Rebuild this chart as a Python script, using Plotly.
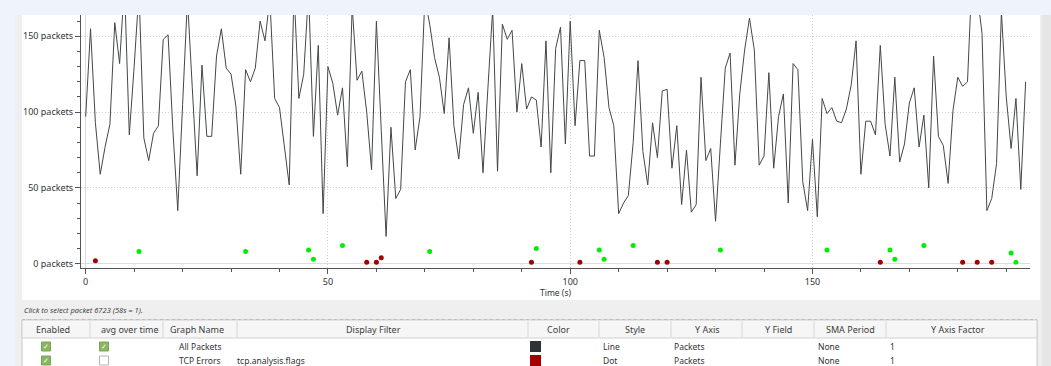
import plotly.graph_objects as go

# ---------------- data ----------------
time_s = list(range(0, 195))
all_packets = [
    97, 155, 93, 59, 77, 92, 159, 132, 185, 85,
    130, 180, 83, 68, 86, 91, 148, 151, 88, 35,
    105, 175, 116, 58, 131, 84, 84, 137, 155, 129,
    125, 104, 59, 128, 120, 129, 160, 147, 175, 109,
    103, 79, 52, 180, 109, 125, 180, 84, 144, 33,
    130, 119, 98, 116, 64, 170, 121, 127, 100, 62,
    160, 88, 18, 90, 43, 49, 120, 128, 75, 97,
    175, 158, 136, 123, 99, 149, 91, 69, 105, 116,
    86, 113, 60, 115, 168, 61, 158, 148, 154, 100,
    132, 102, 110, 108, 77, 147, 60, 142, 156, 79,
    160, 91, 134, 134, 71, 71, 154, 136, 103, 91,
    33, 40, 45, 80, 134, 74, 52, 93, 70, 114,
    115, 63, 91, 39, 75, 34, 39, 123, 68, 76,
    28, 79, 129, 139, 65, 112, 141, 162, 141, 65,
    71, 126, 63, 97, 112, 40, 132, 128, 54, 35,
    82, 31, 109, 99, 103, 94, 93, 102, 118, 147,
    59, 94, 94, 85, 144, 92, 71, 123, 67, 79,
    106, 116, 77, 98, 50, 137, 84, 78, 53, 101,
    123, 117, 120, 195, 178, 152, 35, 43, 66, 166,
    110, 76, 109, 49, 120,
]
tcp_err_t = [2, 58, 60, 61, 92, 102, 118, 120, 164, 181, 184, 187]
tcp_err_v = [2, 1, 1, 4, 1, 1, 1, 1, 1, 1, 1, 1]
green_t = [11, 33, 46, 47, 53, 71, 93, 106, 107, 113, 131, 153, 166, 167, 173, 191, 192]
green_v = [8, 8, 9, 3, 12, 8, 10, 9, 3, 12, 9, 9, 9, 3, 12, 7, 1]

y_tick_vals = [0, 50, 100, 150]
y_tick_text = ["0 packets", "50 packets", "100 packets", "150 packets"]
x_tick_vals = [0, 50, 100, 150]
x_tick_text = ["0", "50", "100", "150"]

headers = ["Enabled", "avg over time", "Graph Name", "Display Filter", "Color",
           "Style", "Y Axis", "Y Field", "SMA Period", "Y Axis Factor"]
rows = [
    {"name": "All Packets", "filter": "", "style": "Line", "yaxis": "Packets",
     "sma": "None", "factor": "1", "color": "#2e3436", "avg": True},
    {"name": "TCP Errors", "filter": "tcp.analysis.flags", "style": "Dot", "yaxis": "Packets",
     "sma": "None", "factor": "1", "color": "#a40000", "avg": False},
]
hint_text = "Click to select packet 6723 (58s = 1)."

# ---------------- geometry helpers ----------------
W, H = 1051, 366
L, R, T, B = 81, 21, 15, 98
PW = W - L - R
PH = H - T - B


def px(x):
    return (x - L) / PW


def py(y):
    return 1 - (y - T) / PH


FONT = "Noto Sans"

fig = go.Figure()
fig.add_trace(go.Scatter(x=time_s, y=all_packets, mode="lines",
                         line=dict(color="#444749", width=1), hoverinfo="skip"))
fig.add_trace(go.Scatter(x=tcp_err_t, y=tcp_err_v, mode="markers",
                         marker=dict(color="#a40000", size=5), hoverinfo="skip"))
fig.add_trace(go.Scatter(x=green_t, y=green_v, mode="markers",
                         marker=dict(color="#00ee00", size=5), hoverinfo="skip"))

shapes = []
annotations = []


def rect(x0, y0, x1, y1, fill, line=None, lw=1):
    shapes.append(dict(type="rect", xref="paper", yref="paper",
                       x0=px(x0), x1=px(x1), y0=py(y0), y1=py(y1),
                       fillcolor=fill, line=dict(color=line or fill, width=lw if line else 0),
                       layer="below"))


def hline(x0, x1, y, color, dash="solid"):
    shapes.append(dict(type="line", xref="paper", yref="paper",
                       x0=px(x0), x1=px(x1), y0=py(y), y1=py(y),
                       line=dict(color=color, width=1, dash=dash), layer="below"))


def vline(x, y0, y1, color):
    shapes.append(dict(type="line", xref="paper", yref="paper",
                       x0=px(x), x1=px(x), y0=py(y0), y1=py(y1),
                       line=dict(color=color, width=1), layer="below"))


def text(x, y, s, size=9, color="#333333", anchor="left"):
    annotations.append(dict(xref="paper", yref="paper", x=px(x), y=py(y), text=s,
                            showarrow=False, xanchor=anchor, yanchor="middle",
                            font=dict(family=FONT, size=size, color=color)))


# window background and panels
rect(15, 15, 1051, 366, "#efefef")
rect(22, 15, 1040, 300, "#ffffff")
rect(1042, 15, 1051, 366, "#e6e6e6")

# hint
text(22, 310, "<i>" + hint_text + "</i>", size=7.5, color="#444444")

# table
rect(22, 320, 1037, 368, "#ffffff", "#c8c8c8")
rect(22, 320, 1037, 338, "#f6f6f6", "#d0d0d0")
hline(22, 1037, 319.5, "#bdbdbd", dash="dot")
col_bounds = [90, 163, 237, 528, 599, 671, 742, 814, 886]
for cb in col_bounds:
    vline(cb, 321, 337, "#d8d8d8")
col_centers = [53, 130, 197, 373, 558, 635, 707, 778, 850, 958]
for hc, hx in zip(headers, col_centers):
    text(hx, 329, hc, size=9, color="#3c3c3c", anchor="center")

row_y = [346.5, 360.5]
for r, ry in zip(rows, row_y):
    rect(41.5, ry - 4.5, 50.5, ry + 4.5, "#8ab661", "#7aa553")
    text(46, ry, "✓", size=7, color="#ffffff", anchor="center")
    if r["avg"]:
        rect(99.5, ry - 4.5, 108.5, ry + 4.5, "#8ab661", "#7aa553")
        text(104, ry, "✓", size=7, color="#ffffff", anchor="center")
    else:
        rect(99.5, ry - 4.5, 108.5, ry + 4.5, "#ffffff", "#b5b5b5")
    text(176.5, ry, r["name"], size=8.5)
    if r["filter"]:
        text(235, ry, r["filter"], size=8.5)
    rect(530, ry - 5.5, 541, ry + 5.5, r["color"])
    text(601, ry, r["style"], size=8.5)
    text(671.5, ry, r["yaxis"], size=8.5)
    text(815.5, ry, r["sma"], size=8.5)
    text(888, ry, r["factor"], size=8.5)

# x axis title
text(555, 292.5, "Time (s)", size=8.5, color="#333333", anchor="center")

fig.update_layout(
    width=W, height=H,
    margin=dict(l=L, r=R, t=T, b=B, pad=0),
    paper_bgcolor="#eef3fc",
    plot_bgcolor="rgba(0,0,0,0)",
    showlegend=False,
    shapes=shapes,
    annotations=annotations,
    font=dict(family=FONT, size=9, color="#333333"),
)
axis_common = dict(
    tickmode="array",
    showline=True, linecolor="#555555", linewidth=1,
    ticks="outside", ticklen=5, tickcolor="#555555",
    showgrid=True, gridcolor="#d0d0d0", griddash="1px,2px", gridwidth=1,
    zeroline=True, zerolinecolor="#dddddd", zerolinewidth=1,
    minor=dict(tickmode="linear", tick0=0, dtick=10, ticks="outside", ticklen=3,
               tickcolor="#555555", showgrid=False),
    tickfont=dict(family=FONT, size=9, color="#333333"),
    fixedrange=True,
)
fig.update_xaxes(range=[-0.97, 194.9], tickvals=x_tick_vals, ticktext=x_tick_text, **axis_common)
fig.update_yaxes(range=[-2.84, 164.05], tickvals=y_tick_vals, ticktext=y_tick_text, **axis_common)

fig.write_html(
    "out.html",
    config={"displayModeBar": False},
    post_script="document.body.style.margin='0';document.body.style.padding='0';",
)
